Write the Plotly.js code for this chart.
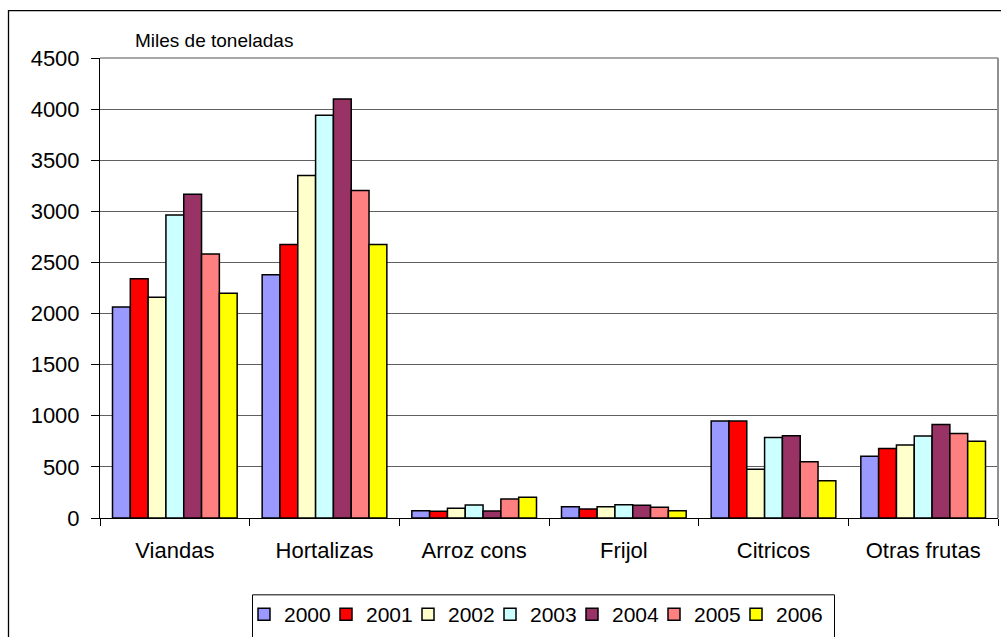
<!DOCTYPE html>
<html>
<head>
<meta charset="utf-8">
<script src="https://cdn.plot.ly/plotly-3.0.1.min.js"></script>
<style>html,body{margin:0;padding:0;background:#fff;}#chart{width:1001px;height:637px;}</style>
</head>
<body>
<div id="chart"></div>
<script>
var categories = ["Viandas", "Hortalizas", "Arroz cons", "Frijol", "Citricos", "Otras frutas"];
var years = ["2000", "2001", "2002", "2003", "2004", "2005", "2006"];
var v2000 = [2065, 2380, 70, 110, 950, 605];
var v2001 = [2340, 2675, 65, 88, 950, 680];
var v2002 = [2160, 3350, 95, 110, 478, 715];
var v2003 = [2965, 3940, 127, 130, 787, 803];
var v2004 = [3168, 4100, 68, 125, 804, 915];
var v2005 = [2583, 3205, 185, 105, 550, 826];
var v2006 = [2198, 2675, 202, 70, 364, 752];
var seriesValues = [v2000, v2001, v2002, v2003, v2004, v2005, v2006];
var colors = ["#9999FF", "#FF0000", "#FFFFCC", "#CCFFFF", "#993366", "#FF8080", "#FFFF00"];
var yTicks = [0, 500, 1000, 1500, 2000, 2500, 3000, 3500, 4000, 4500];

var FONT = '"Liberation Sans", Arial, sans-serif';
var traces = years.map(function (yr, i) {
  return {
    type: 'bar', name: yr, x: categories, y: seriesValues[i],
    marker: { color: colors[i], line: { color: '#000000', width: 1.5 } },
    hoverinfo: 'x+y+name'
  };
});
// empty spacer legend entry so the last legend label is not clipped (draws nothing)
traces.push({
  type: 'scatter', mode: 'markers', name: '\u00a0', x: [null], y: [null],
  marker: { opacity: 0, color: 'rgba(0,0,0,0)', size: 1, line: { width: 0 } },
  showlegend: true, hoverinfo: 'skip'
});

// pixel helpers for paper coordinates (plot area 100..998 x, 58..519 y)
function px(x) { return (x - 100) / 898; }
function py(y) { return (519 - y) / 461; }

var layout = {
  width: 1001, height: 637,
  margin: { l: 100, r: 3, t: 58, b: 118, pad: 0 },
  paper_bgcolor: '#ffffff', plot_bgcolor: '#ffffff',
  font: { family: FONT, size: 21, color: '#000000' },
  barmode: 'group', bargap: 0.167, bargroupgap: 0,
  showlegend: true,
  legend: {
    orientation: 'h', x: px(244), xanchor: 'left', y: py(614.5), yanchor: 'middle',
    font: { family: FONT, size: 21, color: '#000' },
    bgcolor: 'rgba(0,0,0,0)', borderwidth: 0, traceorder: 'normal',
    entrywidth: 37, entrywidthmode: 'pixels'
  },
  xaxis: {
    type: 'category', tickson: 'boundaries', ticks: 'outside', ticklen: 7, tickcolor: '#000',
    showline: true, linecolor: '#000', linewidth: 1, showgrid: false,
    tickfont: { family: FONT, size: 22, color: '#000' }, ticklabelstandoff: 13,
    fixedrange: true
  },
  yaxis: {
    range: [0, 4500], tickvals: yTicks, ticktext: yTicks.map(String),
    ticks: 'outside', ticklen: 8, tickcolor: '#000',
    showline: true, linecolor: '#000', linewidth: 1,
    showgrid: true, gridcolor: '#606060', gridwidth: 1, zeroline: false,
    tickfont: { family: FONT, size: 22, color: '#000' }, ticklabelstandoff: 7,
    fixedrange: true
  },
  annotations: [{
    text: 'Miles de toneladas', xref: 'paper', yref: 'paper',
    x: px(133), y: py(40), xanchor: 'left', yanchor: 'middle', showarrow: false,
    font: { family: FONT, size: 19, color: '#000' }
  }],
  shapes: [
    { type: 'line', xref: 'paper', yref: 'paper', x0: 0, x1: 1, y0: 1, y1: 1, line: { color: '#a8a8a8', width: 2 } },
    { type: 'line', xref: 'paper', yref: 'paper', x0: 1, x1: 1, y0: 0, y1: 1, line: { color: '#909090', width: 2 } },
    { type: 'rect', xref: 'paper', yref: 'paper', x0: px(8.5), x1: px(1010), y0: py(650), y1: py(10.5), line: { color: '#000', width: 1.3 }, fillcolor: 'rgba(0,0,0,0)' },
    { type: 'rect', xref: 'paper', yref: 'paper', x0: px(252.5), x1: px(834.5), y0: py(650), y1: py(596), line: { color: '#000', width: 1 }, fillcolor: 'rgba(0,0,0,0)' }
  ]
};

Plotly.newPlot('chart', traces, layout, { displayModeBar: false, staticPlot: true });
</script>
</body>
</html>
